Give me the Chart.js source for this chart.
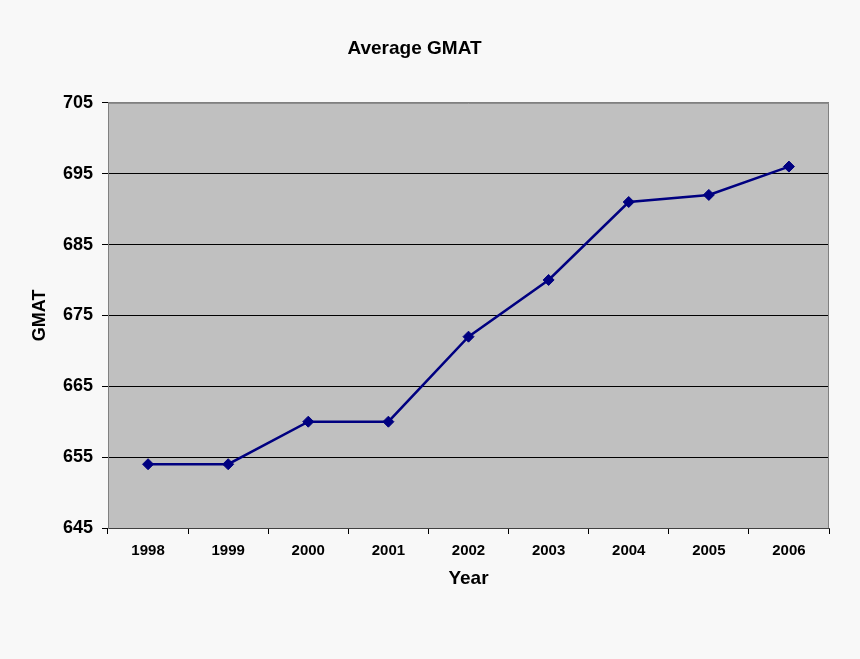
<!DOCTYPE html>
<html>
<head>
<meta charset="utf-8">
<script src="https://cdn.jsdelivr.net/npm/chart.js@4/dist/chart.umd.min.js"></script>
<style>
  html, body { margin: 0; padding: 0; background: #f8f8f8; }
  #wrap { width: 860px; height: 659px; }
</style>
</head>
<body>
<div id="wrap"><canvas id="c" width="860" height="659"></canvas></div>
<script>
const years = ["1998", "1999", "2000", "2001", "2002", "2003", "2004", "2005", "2006"];
const gmat = [654, 654, 660, 660, 672, 680, 691, 692, 696];
const yTicks = [645, 655, 665, 675, 685, 695, 705];

const FONT = "'Liberation Sans', Arial, sans-serif";

const plotBg = {
  id: 'plotBg',
  beforeDraw(chart) {
    const {ctx, chartArea: a} = chart;
    ctx.save();
    ctx.fillStyle = '#c0c0c0';
    ctx.fillRect(a.left, a.top, a.right - a.left, a.bottom - a.top);
    ctx.restore();
  },
  afterDatasetsDraw(chart) {
    const {ctx, chartArea: a} = chart;
    ctx.save();
    ctx.strokeStyle = '#808080';
    ctx.lineWidth = 1;
    ctx.beginPath();
    ctx.moveTo(a.left + 0.5, a.bottom);
    ctx.lineTo(a.left + 0.5, a.top + 0.5);
    ctx.lineTo(a.right - 0.5, a.top + 0.5);
    ctx.lineTo(a.right - 0.5, a.bottom);
    ctx.stroke();
    ctx.restore();
  }
};

new Chart(document.getElementById('c'), {
  type: 'line',
  data: {
    labels: years,
    datasets: [{
      data: gmat,
      borderColor: '#000080',
      backgroundColor: '#000080',
      borderWidth: 2.5,
      pointStyle: 'rectRot',
      pointRadius: 5.5,
      pointHoverRadius: 5.5,
      pointBorderWidth: 1,
      tension: 0,
      fill: false
    }]
  },
  options: {
    responsive: false,
    animation: false,
    devicePixelRatio: 1,
    layout: { padding: { left: 0, right: 31, top: 0, bottom: 0 } },
    plugins: {
      legend: { display: false },
      tooltip: { enabled: false },
      title: {
        display: true,
        text: 'Average GMAT',
        color: '#000',
        font: { family: FONT, size: 19, weight: 'bold' },
        padding: { top: 37, bottom: 43 }
      }
    },
    scales: {
      x: {
        type: 'category',
        offset: true,
        afterFit(scale) { scale.height = 131; },
        grid: {
          offset: true,
          drawOnChartArea: false,
          drawTicks: true,
          tickLength: 6,
          color: '#000'
        },
        border: { display: true, color: '#404040', width: 1 },
        ticks: {
          color: '#000',
          padding: 8,
          maxRotation: 0,
          font: { family: FONT, size: 15, weight: 'bold' }
        },
        title: {
          display: true,
          text: 'Year',
          color: '#000',
          font: { family: FONT, size: 19, weight: 'bold' },
          padding: { top: 0, bottom: 69 }
        }
      },
      y: {
        min: 645,
        max: 705,
        afterFit(scale) { scale.width = 108; },
        afterBuildTicks(scale) { scale.ticks = yTicks.map(v => ({ value: v })); },
        grid: {
          color: (c) => (c.tick && c.tick.value === 705) ? '#808080' : '#000',
          tickColor: '#000',
          drawTicks: true,
          tickLength: 6,
          lineWidth: 1
        },
        border: { display: true, color: '#808080', width: 1 },
        ticks: {
          color: '#000',
          padding: 9,
          font: { family: FONT, size: 18, weight: 'bold' }
        },
        title: {
          display: true,
          text: 'GMAT',
          color: '#000',
          font: { family: FONT, size: 18, weight: 'bold' },
          padding: { top: 29, bottom: 0 }
        }
      }
    }
  },
  plugins: [plotBg]
});
</script>
</body>
</html>
